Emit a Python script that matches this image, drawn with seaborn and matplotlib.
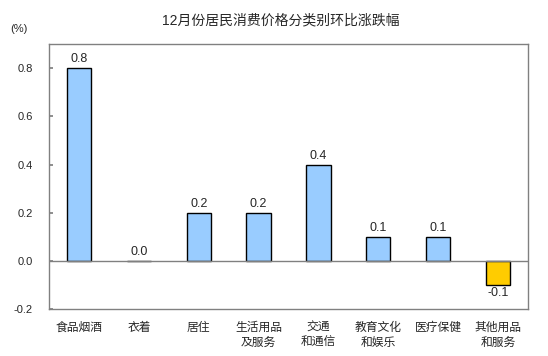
import matplotlib
matplotlib.use("Agg")
import matplotlib.pyplot as plt
import seaborn as sns
import pandas as pd

categories = ["食品烟酒", "衣着", "居住", "生活用品\n及服务", "交通\n和通信", "教育文化\n和娱乐", "医疗保健", "其他用品\n和服务"]
values = [0.8, 0.0, 0.2, 0.2, 0.4, 0.1, 0.1, -0.1]
value_labels = ["0.8", "0.0", "0.2", "0.2", "0.4", "0.1", "0.1", "-0.1"]
yticks = [-0.2, 0.0, 0.2, 0.4, 0.6, 0.8]
title = "12月份居民消费价格分类别环比涨跌幅"

sns.set_theme(style="white")
plt.rcParams['font.family'] = ['Liberation Sans', 'Noto Sans CJK SC', 'DejaVu Sans']

df = pd.DataFrame({"cat": categories, "val": values})
colors = ["#99CCFF" if v >= 0 else "#FFCC00" for v in values]

fig = plt.figure(figsize=(5.48, 3.56), dpi=100)
ax = fig.add_axes([0.090, 0.132, 0.873, 0.744])
sns.barplot(data=df, x="cat", y="val", hue="cat", palette=colors, legend=False,
            width=0.41, edgecolor="black", linewidth=1.0, ax=ax, saturation=1)

ax.set_ylim(-0.2, 0.9)
ax.set_xlim(-0.5, len(categories) - 0.5)
ax.set_yticks(yticks)
ax.set_yticklabels([f"{t:.1f}" for t in yticks], fontsize=8)
ax.tick_params(axis='y', direction='in', length=3, color='#808080', pad=12, left=True)
ax.tick_params(axis='x', length=0, pad=9, labelsize=8.5)
for lbl in ax.get_xticklabels():
    lbl.set_linespacing(1.35)
ax.set_xlabel("")
ax.set_ylabel("")
for s in ax.spines.values():
    s.set_color('#808080')
    s.set_linewidth(1.0)
ax.axhline(0, color='#808080', linewidth=1.0, zorder=3)

for i, (v, lab) in enumerate(zip(values, value_labels)):
    if v >= 0:
        ax.annotate(lab, (i, v), xytext=(0, 2), textcoords='offset points',
                    ha='center', va='bottom', fontsize=9)
    else:
        ax.annotate(lab, (i, v), xytext=(0, -1.5), textcoords='offset points',
                    ha='center', va='top', fontsize=9)

fig.text(0.512, 0.943, title, ha='center', va='center', fontsize=10)
fig.text(0.035, 0.918, "(%)", ha='center', va='center', fontsize=8)

fig.savefig("out.png", dpi=100)
